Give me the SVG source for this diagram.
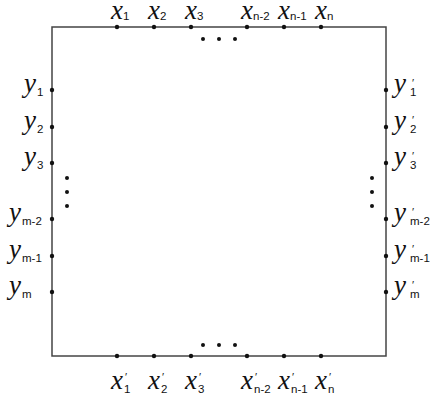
<svg xmlns="http://www.w3.org/2000/svg" width="430" height="400" viewBox="0 0 430 400">
<style>
.v{font-family:"Liberation Serif",serif;font-style:italic;font-size:27px;fill:#111}
.s{font-family:"Liberation Sans",sans-serif;font-size:11.5px;fill:#111}
.p{font-size:11px}
.box{fill:none;stroke:#444;stroke-width:1.5}
.d{fill:#111}
</style>
<rect width="430" height="400" fill="#fff"/>
<g id="frame"><rect class="box" x="52" y="27" width="334" height="329"/></g>
<g id="connectors"></g>
<g id="ellipses">
<circle class="d" cx="203" cy="39" r="2"/><circle class="d" cx="219" cy="39" r="2"/><circle class="d" cx="235" cy="39" r="2"/>
<circle class="d" cx="203" cy="345" r="2"/><circle class="d" cx="219" cy="345" r="2"/><circle class="d" cx="235" cy="345" r="2"/>
<circle class="d" cx="67" cy="178" r="2"/><circle class="d" cx="67" cy="192" r="2"/><circle class="d" cx="67" cy="206" r="2"/>
<circle class="d" cx="372" cy="178" r="2"/><circle class="d" cx="372" cy="192" r="2"/><circle class="d" cx="372" cy="206" r="2"/>
</g>
<g id="top">
<g id="x1"><circle class="d" cx="117" cy="27" r="2.2"/><text class="v" x="111" y="19">x</text><text class="s" x="123" y="20">1</text></g>
<g id="x2"><circle class="d" cx="154" cy="27" r="2.2"/><text class="v" x="148" y="19">x</text><text class="s" x="160" y="20">2</text></g>
<g id="x3"><circle class="d" cx="191" cy="27" r="2.2"/><text class="v" x="185" y="19">x</text><text class="s" x="197" y="20">3</text></g>
<g id="xn2"><circle class="d" cx="247" cy="27" r="2.2"/><text class="v" x="241" y="19">x</text><text class="s" x="253" y="20">n-2</text></g>
<g id="xn1"><circle class="d" cx="284" cy="27" r="2.2"/><text class="v" x="278" y="19">x</text><text class="s" x="290" y="20">n-1</text></g>
<g id="xn"><circle class="d" cx="321" cy="27" r="2.2"/><text class="v" x="315" y="19">x</text><text class="s" x="327" y="20">n</text></g>
</g>
<g id="bottom">
<g id="xp1"><circle class="d" cx="117" cy="356" r="2.2"/><text class="v" x="111" y="389">x</text><text class="s"><tspan class="p" x="125" y="381">′</tspan><tspan x="124" y="393">1</tspan></text></g>
<g id="xp2"><circle class="d" cx="154" cy="356" r="2.2"/><text class="v" x="148" y="389">x</text><text class="s"><tspan class="p" x="162" y="381">′</tspan><tspan x="161" y="393">2</tspan></text></g>
<g id="xp3"><circle class="d" cx="191" cy="356" r="2.2"/><text class="v" x="185" y="389">x</text><text class="s"><tspan class="p" x="199" y="381">′</tspan><tspan x="198" y="393">3</tspan></text></g>
<g id="xpn2"><circle class="d" cx="247" cy="356" r="2.2"/><text class="v" x="241" y="389">x</text><text class="s"><tspan class="p" x="255" y="381">′</tspan><tspan x="254" y="393">n-2</tspan></text></g>
<g id="xpn1"><circle class="d" cx="284" cy="356" r="2.2"/><text class="v" x="278" y="389">x</text><text class="s"><tspan class="p" x="292" y="381">′</tspan><tspan x="291" y="393">n-1</tspan></text></g>
<g id="xpn"><circle class="d" cx="321" cy="356" r="2.2"/><text class="v" x="315" y="389">x</text><text class="s"><tspan class="p" x="329" y="381">′</tspan><tspan x="328" y="393">n</tspan></text></g>
</g>
<g id="left">
<g id="y1"><circle class="d" cx="52" cy="90" r="2.2"/><text class="v" x="24" y="92">y</text><text class="s" x="37" y="96">1</text></g>
<g id="y2"><circle class="d" cx="52" cy="127" r="2.2"/><text class="v" x="24" y="129">y</text><text class="s" x="37" y="133">2</text></g>
<g id="y3"><circle class="d" cx="52" cy="163" r="2.2"/><text class="v" x="24" y="165">y</text><text class="s" x="37" y="169">3</text></g>
<g id="ym2"><circle class="d" cx="52" cy="219" r="2.2"/><text class="v" x="9" y="221">y</text><text class="s" x="22" y="225">m-2</text></g>
<g id="ym1"><circle class="d" cx="52" cy="256" r="2.2"/><text class="v" x="9" y="258">y</text><text class="s" x="22" y="262">m-1</text></g>
<g id="ym"><circle class="d" cx="52" cy="292" r="2.2"/><text class="v" x="9" y="294">y</text><text class="s" x="22" y="298">m</text></g>
</g>
<g id="right">
<g id="yp1"><circle class="d" cx="386" cy="90" r="2.2"/><text class="v" x="394" y="92">y</text><text class="s"><tspan class="p" x="412" y="87">′</tspan><tspan x="410" y="96">1</tspan></text></g>
<g id="yp2"><circle class="d" cx="386" cy="127" r="2.2"/><text class="v" x="394" y="129">y</text><text class="s"><tspan class="p" x="412" y="124">′</tspan><tspan x="410" y="133">2</tspan></text></g>
<g id="yp3"><circle class="d" cx="386" cy="163" r="2.2"/><text class="v" x="394" y="165">y</text><text class="s"><tspan class="p" x="412" y="160">′</tspan><tspan x="410" y="169">3</tspan></text></g>
<g id="ypm2"><circle class="d" cx="386" cy="219" r="2.2"/><text class="v" x="394" y="221">y</text><text class="s"><tspan class="p" x="412" y="216">′</tspan><tspan x="410" y="225">m-2</tspan></text></g>
<g id="ypm1"><circle class="d" cx="386" cy="256" r="2.2"/><text class="v" x="394" y="258">y</text><text class="s"><tspan class="p" x="412" y="253">′</tspan><tspan x="410" y="262">m-1</tspan></text></g>
<g id="ypm"><circle class="d" cx="386" cy="292" r="2.2"/><text class="v" x="394" y="294">y</text><text class="s"><tspan class="p" x="412" y="289">′</tspan><tspan x="410" y="298">m</tspan></text></g>
</g>
</svg>
